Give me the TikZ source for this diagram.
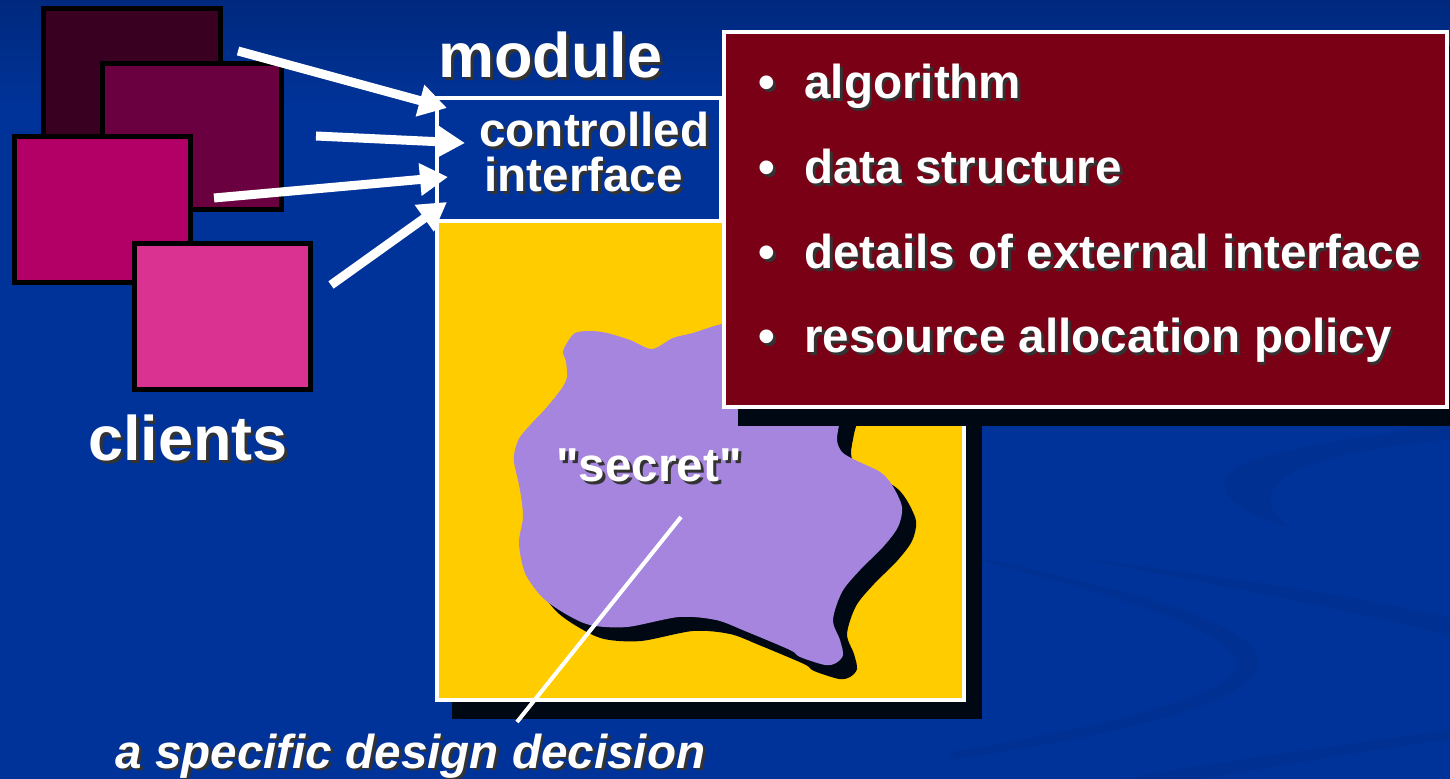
\documentclass[tikz,border=0pt]{standalone}
\usepackage{fontspec}
\setmainfont{Liberation Sans}
% same face without the TeX quote mapping, for straight double quotes
\newfontfamily\straightquotes{Liberation Sans}
\usetikzlibrary{arrows.meta,fit}

\definecolor{bgblue}{HTML}{003399}
\definecolor{bgtop}{HTML}{00297E}
\definecolor{swoosh}{HTML}{003192}
\definecolor{deepshadow}{HTML}{000814}
\definecolor{gold}{HTML}{FFCC00}
\definecolor{lavender}{HTML}{A685DE}
\definecolor{maroon}{HTML}{7A0016}
\definecolor{clientA}{HTML}{3A0021}
\definecolor{clientB}{HTML}{6A003F}
\definecolor{clientC}{HTML}{B30066}
\definecolor{clientD}{HTML}{D93291}
\colorlet{txtshadow}{black!80}

% white lettering with a small dark drop shadow
\newcommand\dropshadowed[1]{\leavevmode\rlap{\kern1.4pt\raisebox{-1.4pt}{\textcolor{txtshadow}{#1}}}#1}

\tikzset{
  client/.style={draw=black, line width=2.5pt, inner sep=0pt},
  frame/.style={draw=white, line width=2.3pt, inner sep=0pt},
  dropbox/.style={fill=deepshadow, inner sep=0pt},
  bodytext/.style={text=white, inner sep=0pt, font=\fontsize{23.8}{28}\selectfont\bfseries},
  titletext/.style={text=white, inner sep=0pt, font=\fontsize{31.5}{36}\selectfont\bfseries},
  bigarrow/.style={draw=white, line width=4.5pt, -{Triangle[length=14pt,width=15.5pt]}},
  leader/.style={draw=white, line width=2pt},
}

% outline of the "secret" region
\newcommand\blobpath{plot[smooth cycle, tension=0.5] coordinates {
  (575,333) (590,331) (607,333) (630,340) (652,349) (673,338) (693,333)
  (722,324) (770,316) (825,335) (848,380) (840,420) (837,440) (842,452)
  (855,460) (880,472) (892,485) (902,507) (898,527) (883,547) (860,570)
  (842,592) (833,620) (840,640) (843,655) (836,663) (825,665) (800,657)
  (790,650) (745,631) (716,620) (679,617) (627,627) (590,625) (564,613)
  (542,597) (525,573) (519,543) (523,517) (520,490) (514,462) (515,450)
  (520,437) (532,423) (547,407) (562,388) (567,377) (566,362) (563,352)
  (567,343)}}

\begin{document}
\begin{tikzpicture}[x=0.5pt, y=-0.5pt]
\useasboundingbox (0,0) rectangle (1450,779);

% background
\fill[bgblue] (0,0) rectangle (1450,779);
\shade[top color=bgtop, bottom color=bgblue] (0,0) rectangle (1450,110);
\fill[swoosh] (983,558) .. controls (1120,590) and (1235,615) .. (1258,655)
  .. controls (1275,700) and (1120,735) .. (950,760) -- (950,752)
  .. controls (1100,727) and (1240,695) .. (1236,662)
  .. controls (1222,625) and (1110,595) .. (983,561) -- cycle;
\fill[swoosh] (1450,425) .. controls (1330,440) and (1235,455) .. (1225,478)
  .. controls (1218,500) and (1250,515) .. (1290,528)
  .. controls (1270,512) and (1262,495) .. (1285,478)
  .. controls (1320,455) and (1390,445) .. (1450,440) -- cycle;
\fill[swoosh] (1080,558) .. controls (1250,580) and (1380,600) .. (1450,618) -- (1450,636)
  .. controls (1360,612) and (1230,588) .. (1080,558) -- cycle;
\fill[swoosh] (1450,730) .. controls (1300,750) and (1180,768) .. (1120,779) -- (1200,779)
  .. controls (1300,763) and (1390,746) .. (1450,740) -- cycle;

% module body: drop shadow, yellow body, controlled interface
\node[dropbox, fit={(452,236) (982,719)}] (bodyshadow) {};
\node[frame, fill=gold, fit={(437,221) (964,700)}] (body) {};
\node[frame, fill=bgblue, fit={(437,98) (721,221)}] (iface) {};

% the secret
\fill[deepshadow, shift={(14,14)}] \blobpath;
\fill[lavender] \blobpath;

% hidden details panel
\node[dropbox, fit={(738,46) (1470,426)}] (panelshadow) {};
\node[frame, fill=maroon, fit={(724,32) (1447,407)}] (panel) {};

% labels
\node[titletext, anchor=base west] (modlabel) at (438,78) {\dropshadowed{module}};
\node[bodytext, anchor=base west, align=left, font=\fontsize{23.8}{22.5}\selectfont\bfseries]
  (iflabel) at (479,192) {\dropshadowed{controlled}\\\hspace*{2.5pt}\dropshadowed{interface}};
\node[titletext, anchor=base west] (clientlabel) at (88,461) {\dropshadowed{clients}};
\node[bodytext, anchor=base west] (secretlabel) at (556,482)
  {\straightquotes\dropshadowed{"secret"}};

\node[bodytext, anchor=base] (dot1) at (767,99) {\dropshadowed{•}};
\node[bodytext, anchor=base] (dot2) at (767,184) {\dropshadowed{•}};
\node[bodytext, anchor=base] (dot3) at (767,269) {\dropshadowed{•}};
\node[bodytext, anchor=base] (dot4) at (767,353) {\dropshadowed{•}};
\node[bodytext, anchor=base west] (item1) at (804,99) {\dropshadowed{algorithm}};
\node[bodytext, anchor=base west] (item2) at (804,184) {\dropshadowed{data structure}};
\node[bodytext, anchor=base west] (item3) at (804,269) {\dropshadowed{details of external interface}};
\node[bodytext, anchor=base west] (item4) at (804,353) {\dropshadowed{resource allocation policy}};

\node[bodytext, font=\fontsize{23.8}{28}\selectfont\bfseries\itshape, anchor=base west]
  (decision) at (115,768) {\dropshadowed{a specific design decision}};

% pointer from the secret to its caption
\coordinate (secretpt) at (681,517);
\coordinate (decisionpt) at (517,722);
\draw[leader] (secretpt) -- (decisionpt);

% clients
\node[client, fill=clientA, fit={(43.5,8.5) (220.5,150)}] (clientA) {};
\node[client, fill=clientB, fit={(102.5,63.5) (281.5,209.5)}] (clientB) {};
\node[client, fill=clientC, fit={(14.5,136.5) (190.5,282.5)}] (clientC) {};
\node[client, fill=clientD, fit={(134.5,243.5) (310.5,389.5)}] (clientD) {};

% calls into the interface
\coordinate (callA) at (238,51);
\coordinate (callB) at (316,136);
\coordinate (callC) at (214,198);
\coordinate (callD) at (331,285);
\coordinate (entryA) at (447,108);
\coordinate (entryB) at (465,143);
\coordinate (entryC) at (448,177);
\coordinate (entryD) at (447,202);
\draw[bigarrow] (callA) -- (entryA);
\draw[bigarrow] (callB) -- (entryB);
\draw[bigarrow] (callC) -- (entryC);
\draw[bigarrow] (callD) -- (entryD);
\end{tikzpicture}
\end{document}
